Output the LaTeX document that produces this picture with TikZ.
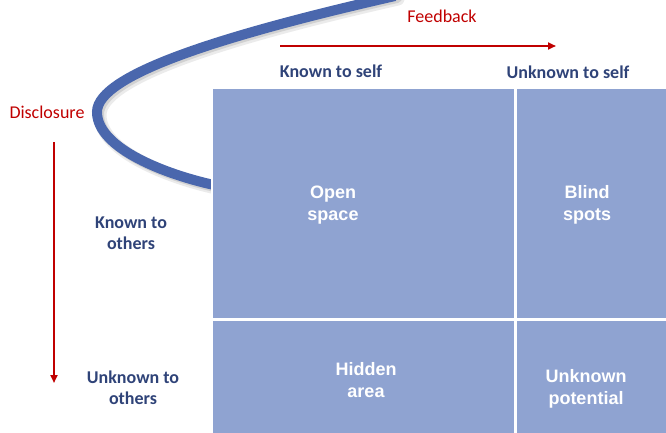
\documentclass[tikz,border=0pt]{standalone}
\usepackage{fontspec}
\setmainfont{Carlito}
\newfontfamily\cellfont{Liberation Sans}
\usetikzlibrary{arrows.meta}
\definecolor{cellblue}{HTML}{8FA3D1}
\definecolor{curveblue}{HTML}{4A67AD}
\definecolor{labelblue}{HTML}{2F4378}
\definecolor{redtxt}{HTML}{C00000}
\tikzset{
  cell/.style={draw=white, line width=2.5pt, fill=cellblue, inner sep=0pt, anchor=north west},
  celltext/.style={text=white, font=\cellfont\bfseries\fontsize{18}{22}\selectfont, align=center},
  axislabel/.style={text=labelblue, font=\bfseries\fontsize{18}{21}\selectfont, align=center},
  redlabel/.style={text=redtxt, font=\fontsize{18}{21}\selectfont},
  redarrow/.style={draw=redtxt, line width=2pt, -{Triangle[length=8pt,width=7pt]}}
}
\begin{document}
\begin{tikzpicture}[x=1pt,y=-1pt]
\useasboundingbox (0,0) rectangle (666,433);
\begin{scope}
\clip (0,0) rectangle (666,433);
% soft shadow of curve
\draw[line width=13pt, black!8, line cap=round]
  (398,-1) .. controls (231,37) and (100,77) .. (100,115) .. controls (100,152) and (171,178) .. (216,188);
\draw[line width=10pt, black!18, line cap=round]
  (397,-2) .. controls (230,36) and (99,76) .. (99,114) .. controls (99,151) and (170,177) .. (215,187);
% curve
\draw[line width=10pt, curveblue]
  (395,-4) .. controls (228,34) and (97,74) .. (97,112) .. controls (97,149) and (168,175) .. (214,185);
% cells
\node[cell, minimum width=304pt, minimum height=232pt] (open) at (210.75,86.75) {};
\node[cell, minimum width=160pt, minimum height=232pt] (blind) at (514,86.75) {};
\node[cell, minimum width=304pt, minimum height=130pt] (hidden) at (210.75,318) {};
\node[cell, minimum width=160pt, minimum height=130pt] (unknown) at (514,318) {};
\end{scope}
\node[celltext] (opent) at (333,205) {Open\\space};
\node[celltext] (blindt) at (587,205) {Blind\\spots};
\node[celltext] (hiddent) at (366,380) {Hidden\\area};
\node[celltext] (unknownt) at (586,389) {Unknown\\potential};
\node[axislabel] (kself) at (331,71) {Known to self};
\node[axislabel] (uself) at (568,72) {Unknown to self};
\node[axislabel] (koth) at (131,233) {Known to\\others};
\node[axislabel] (uoth) at (133,388) {Unknown to\\others};
\node[redlabel] (fb) at (442,16) {Feedback};
\node[redlabel] (disc) at (47,112) {Disclosure};
\coordinate (fa) at (280,46);
\coordinate (fb2) at (556,46);
\coordinate (da) at (54,142);
\coordinate (db) at (54,383);
\draw[redarrow] (fa) -- (fb2);
\draw[redarrow] (da) -- (db);
\end{tikzpicture}
\end{document}
